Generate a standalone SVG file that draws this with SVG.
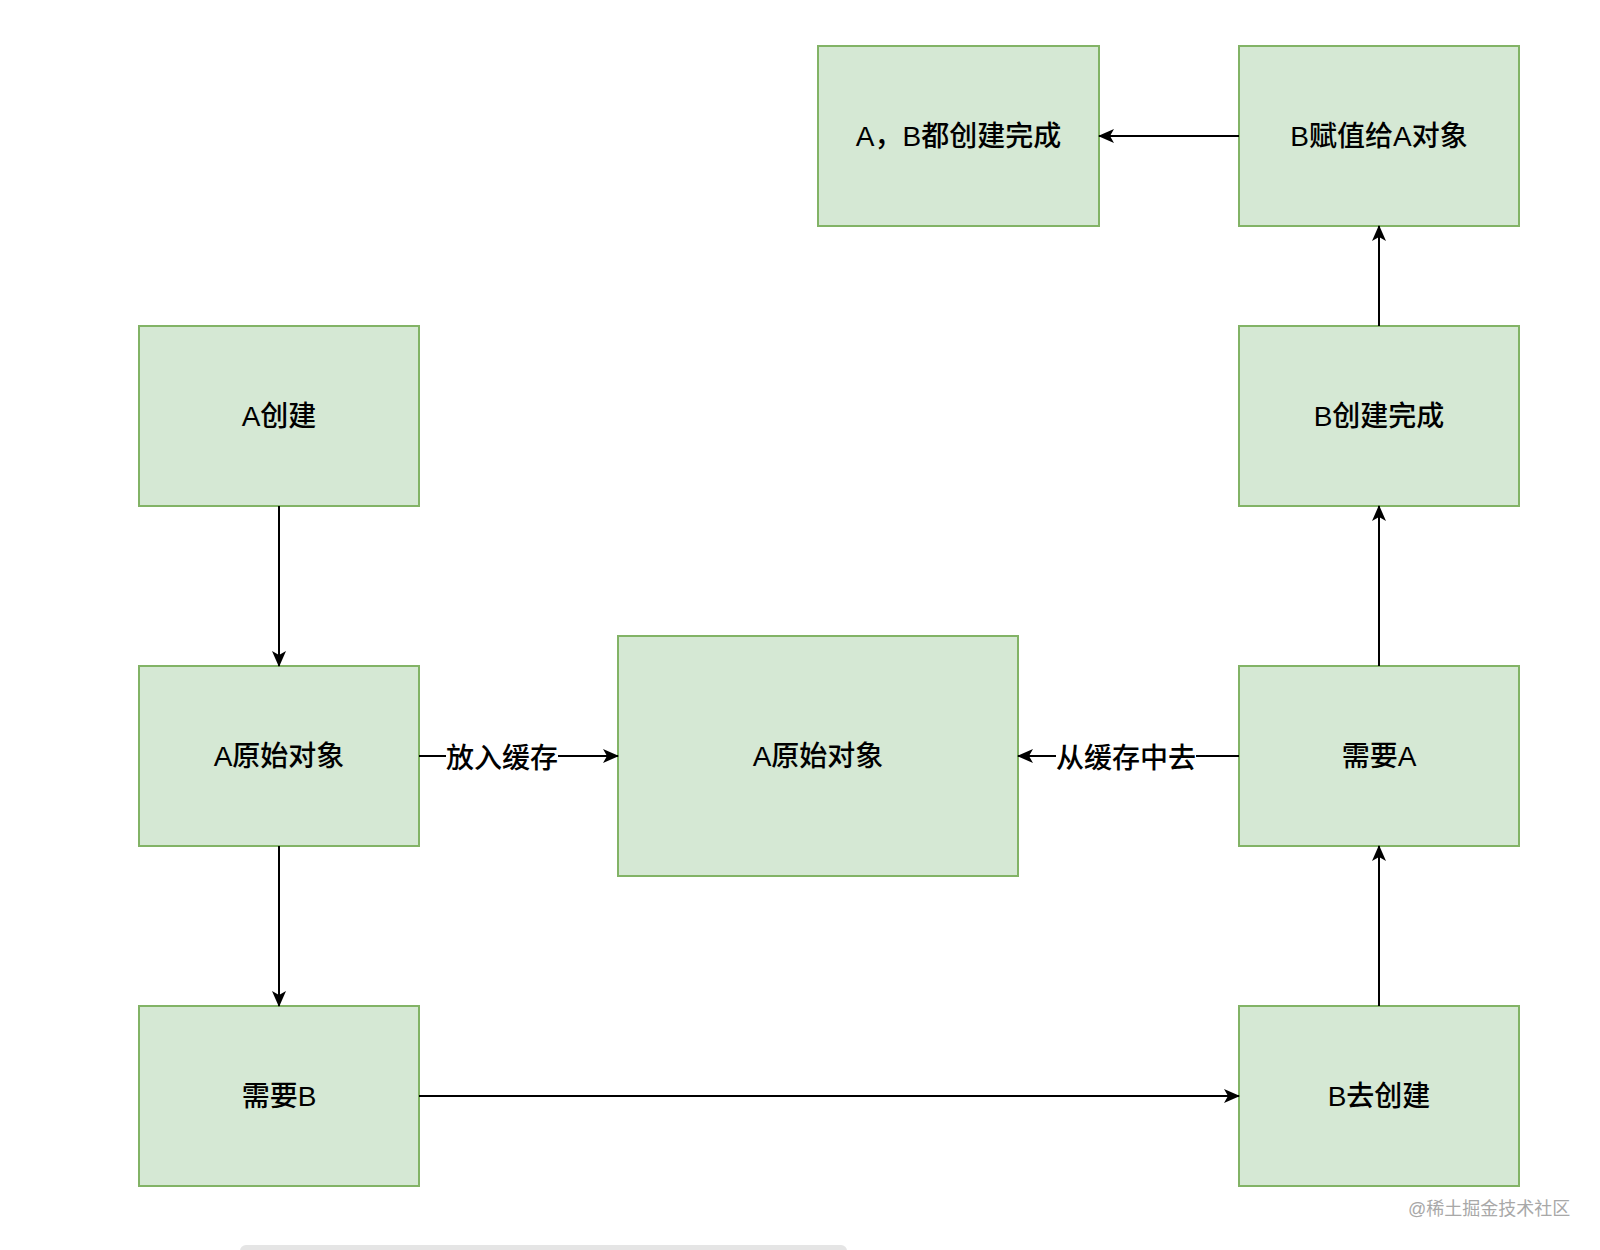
<svg xmlns="http://www.w3.org/2000/svg" width="1600" height="1250" viewBox="0 0 1600 1250">
<style>
.box{fill:#d5e8d4;stroke:#82b366;stroke-width:2}
.lbl{font-family:"Liberation Sans","Noto Sans CJK SC",sans-serif;font-size:28px;font-weight:500;fill:#000;text-anchor:middle;dominant-baseline:central}
.edge{stroke:#000;stroke-width:2;fill:none;marker-end:url(#arr)}
.elbl{font-family:"Liberation Sans","Noto Sans CJK SC",sans-serif;font-size:28px;font-weight:500;fill:#000;text-anchor:middle;dominant-baseline:central}
.wm{font-family:"Liberation Sans","Noto Sans CJK SC",sans-serif;font-size:18px;fill:#a8a8a8}
</style>
<defs>
<marker id="arr" viewBox="0 0 16 14" refX="15" refY="7" markerWidth="16" markerHeight="14" markerUnits="userSpaceOnUse" orient="auto">
<path d="M0,0 L16,7 L0,14 L4,7 Z" fill="#000"/>
</marker>
</defs>
<rect width="1600" height="1250" fill="#fff"/>
<g id="n-ab-done"><rect class="box" x="818" y="46" width="281" height="180"/><text class="lbl" x="958.5" y="136">A，B都创建完成</text></g>
<g id="n-b-assign"><rect class="box" x="1239" y="46" width="280" height="180"/><text class="lbl" x="1379" y="136">B赋值给A对象</text></g>
<g id="n-a-create"><rect class="box" x="139" y="326" width="280" height="180"/><text class="lbl" x="279" y="416">A创建</text></g>
<g id="n-b-done"><rect class="box" x="1239" y="326" width="280" height="180"/><text class="lbl" x="1379" y="416">B创建完成</text></g>
<g id="n-a-raw"><rect class="box" x="139" y="666" width="280" height="180"/><text class="lbl" x="279" y="756">A原始对象</text></g>
<g id="n-cache"><rect class="box" x="618" y="636" width="400" height="240"/><text class="lbl" x="818" y="756">A原始对象</text></g>
<g id="n-need-a"><rect class="box" x="1239" y="666" width="280" height="180"/><text class="lbl" x="1379" y="756">需要A</text></g>
<g id="n-need-b"><rect class="box" x="139" y="1006" width="280" height="180"/><text class="lbl" x="279" y="1096">需要B</text></g>
<g id="n-b-create"><rect class="box" x="1239" y="1006" width="280" height="180"/><text class="lbl" x="1379" y="1096">B去创建</text></g>
<g id="edges">
<path class="edge" d="M279,506 L279,666"/>
<path class="edge" d="M279,846 L279,1006"/>
<path class="edge" d="M419,1096 L1239,1096"/>
<path class="edge" d="M1379,1006 L1379,846"/>
<path class="edge" d="M1379,666 L1379,506"/>
<path class="edge" d="M1379,326 L1379,226"/>
<path class="edge" d="M1239,136 L1099,136"/>
<path class="edge" d="M419,756 L618,756"/>
<rect x="446" y="740" width="112" height="34" fill="#fff"/>
<text class="elbl" x="502" y="758">放入缓存</text>
<path class="edge" d="M1239,756 L1018,756"/>
<rect x="1056" y="740" width="140" height="34" fill="#fff"/>
<text class="elbl" x="1126" y="758">从缓存中去</text>
</g>
<text class="wm" x="1408" y="1215">@稀土掘金技术社区</text>
<rect x="240" y="1245" width="607" height="14" rx="6" fill="#e5e5e5"/>
</svg>
